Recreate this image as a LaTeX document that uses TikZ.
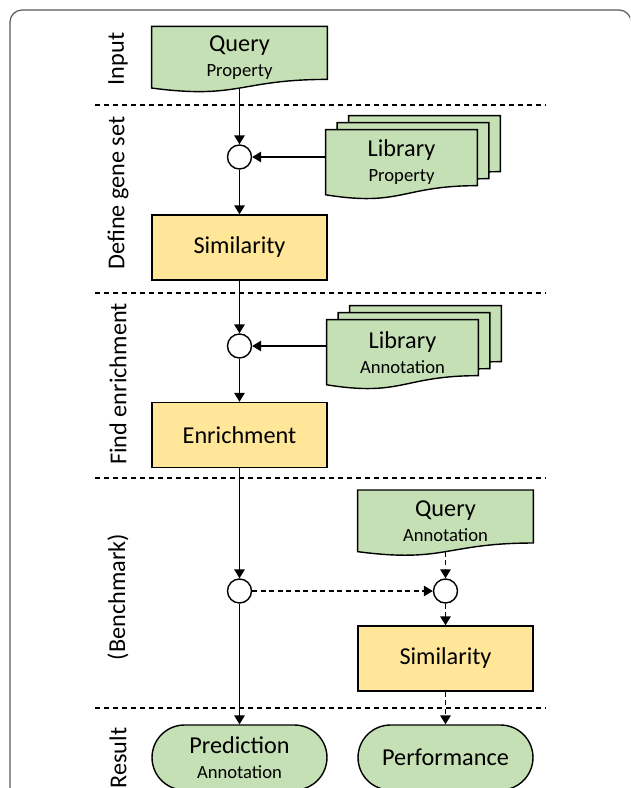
\documentclass[tikz,border=0pt]{standalone}
\usepackage{fontspec}
\setmainfont{Carlito}
\usetikzlibrary{arrows.meta,calc,backgrounds}
\definecolor{docgreen}{HTML}{C5E0B4}
\definecolor{procyellow}{HTML}{FFE699}
\definecolor{framegray}{HTML}{595959}
\newcommand\bigsize{\fontsize{13.8}{14.2}\selectfont}
\newcommand\smallsize{\fontsize{10.6}{14.2}\selectfont}
\newcommand\docshape[1]{%
  \filldraw[docline] (#1.north west) -- (#1.north east)
    -- ($(#1.north east)!0.86!(#1.south east)$)
    .. controls ($(#1.north)!0.86!(#1.south)$) and ($(#1.north)!1.187!(#1.south)$)
    .. (#1.south west) -- cycle;}
\tikzset{
  >={Triangle[length=1.8mm,width=2.1mm]},
  docline/.style={draw=black, fill=docgreen, line width=0.8pt},
  docnode/.style={minimum width=#1, minimum height=1.22cm, inner sep=0pt, align=center, font=\bigsize},
  libnode/.style={docnode=#1, minimum height=1.29cm},
  procbox/.style={draw, fill=procyellow, line width=0.8pt, minimum width=3.5cm, minimum height=1.3cm, inner sep=0pt, font=\bigsize},
  termbox/.style={draw, fill=docgreen, line width=0.8pt, rounded corners=0.65cm, minimum width=3.5cm, minimum height=1.3cm, inner sep=0pt, align=center, font=\bigsize},
  joint/.style={circle, draw, fill=white, line width=0.8pt, minimum size=0.48cm, inner sep=0pt},
  flow/.style={->, line width=0.9pt},
  bench/.style={flow, dash pattern=on 1mm off 0.7mm},
  lane/.style={rotate=90, font=\bigsize},
  sep/.style={dash pattern=on 1mm off 0.8mm, line width=0.6pt}
}
\begin{document}
\begin{tikzpicture}[x=0.02cm, y=-0.02cm]
    \useasboundingbox (0, 0) rectangle (630, 788);
    \clip (0, 0) rectangle (630, 788);
    \draw[framegray, line width=0.7pt, rounded corners=0.24cm] (10, 10) rectangle (631, 800);
    \foreach \y in {105, 293, 478, 708}
        \draw[sep] (95, \y) -- (545, \y);
    \node[lane] (laneinput) at(118, 59) {Input};
    \node[lane] (lanedefine) at(118, 193) {Define gene set};
    \node[lane] (lanefind) at(118, 384) {Find enrichment};
    \node[lane] (lanebench) at(118, 597) {(Benchmark)};
    \node[lane] (laneresult) at(118, 758) {Result};
    \node[docnode=3.5cm] (q1) at(239.5, 57.2) {Query\\{\smallsize Property}};
    \node[libnode=3.02cm] (lib1) at(401.5, 162.2) {Library\\{\smallsize Property}};
    \node[libnode=3.02cm] (lib1m) at($(lib1)+(11.5, -7)$) {};
    \node[libnode=3.02cm] (lib1b) at($(lib1)+(23, -14)$) {};
    \node[libnode=3.02cm] (lib2) at(402.5, 352.2) {Library\\{\smallsize Annotation}};
    \node[libnode=3.02cm] (lib2m) at($(lib2)+(11.5, -7)$) {};
    \node[libnode=3.02cm] (lib2b) at($(lib2)+(23, -14)$) {};
    \node[docnode=3.5cm] (qa) at(445.5, 520.8) {Query\\{\smallsize Annotation}};
    \begin{scope}[on background layer]
        \docshape{q1}
        \docshape{lib1b}
        \docshape{lib1m}
        \docshape{lib1}
        \docshape{lib2b}
        \docshape{lib2m}
        \docshape{lib2}
        \docshape{qa}
    \end{scope}
    \node[joint] (c1) at(239.5, 157) {};
    \node[procbox] (sim1) at(239.5, 247.5) {Similarity};
    \node[joint] (c2) at(239.5, 346) {};
    \node[procbox] (enr) at(239.5, 435) {Enrichment};
    \node[joint] (c3) at(239.5, 591) {};
    \node[joint] (c4) at(445.5, 591) {};
    \node[procbox] (sim2) at(445.5, 658.5) {Similarity};
    \node[termbox] (pred) at(239.5, 757.5) {Prediction\\{\smallsize Annotation}};
    \node[termbox] (perf) at(445.5, 757.5) {Performance};
    \draw[flow] (q1.south) -- (c1);
    \draw[flow] (c1) -- (sim1);
    \draw[flow] (lib1.west |- c1) -- (c1);
    \draw[flow] (sim1) -- (c2);
    \draw[flow] (lib2.west |- c2) -- (c2);
    \draw[flow] (c2) -- (enr);
    \draw[flow] (enr) -- (c3);
    \draw[flow] (c3) -- (pred);
    \draw[bench] (c3) -- (c4);
    \draw[bench] (qa.south) -- (c4);
    \draw[bench] (c4) -- (sim2);
    \draw[bench] (sim2) -- (perf);
\end{tikzpicture}
\end{document}
